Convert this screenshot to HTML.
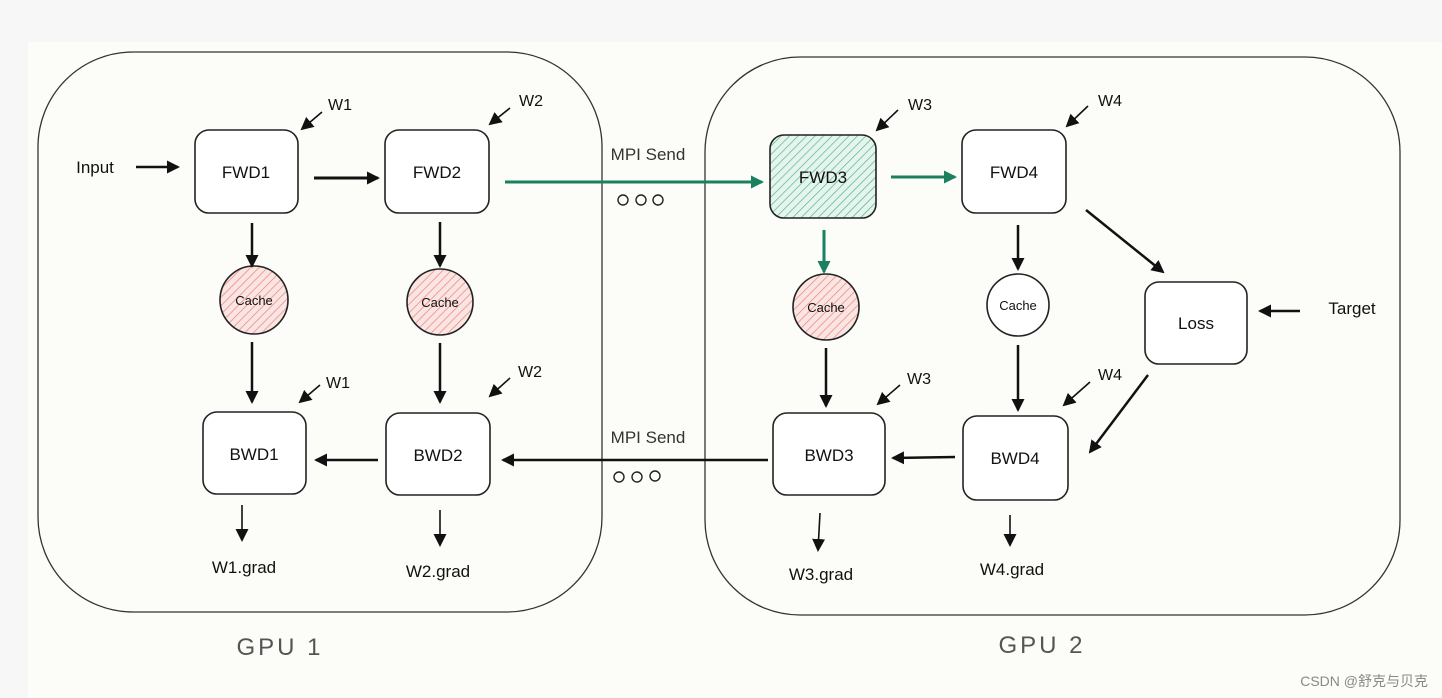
<!DOCTYPE html>
<html><head><meta charset="utf-8"><style>
html,body{margin:0;padding:0;background:#f7f7f7;}
svg{display:block;font-family:"Liberation Sans",sans-serif;}
</style></head><body>
<svg width="1442" height="698" viewBox="0 0 1442 698" xmlns="http://www.w3.org/2000/svg">
<defs>
<marker id="a" markerWidth="13" markerHeight="13" refX="11" refY="6.5" orient="auto" markerUnits="userSpaceOnUse" viewBox="0 0 13 13"><path d="M0,0 L13,6.5 L0,13 z" fill="#111"/></marker>
<marker id="g" markerWidth="13" markerHeight="13" refX="11" refY="6.5" orient="auto" markerUnits="userSpaceOnUse" viewBox="0 0 13 13"><path d="M0,0 L13,6.5 L0,13 z" fill="#1a8060"/></marker>
<pattern id="hg" width="6" height="6" patternUnits="userSpaceOnUse" patternTransform="rotate(45)"><rect width="6" height="6" fill="#e6f4ee"/><line x1="0" y1="0" x2="0" y2="6" stroke="#5ab894" stroke-width="1.5"/></pattern>
<pattern id="hr" width="6" height="6" patternUnits="userSpaceOnUse" patternTransform="rotate(45)"><rect width="6" height="6" fill="#fbe5e3"/><line x1="0" y1="0" x2="0" y2="6" stroke="#e88a86" stroke-width="1.5"/></pattern>
</defs>
<rect x="0" y="0" width="1442" height="698" fill="#f7f7f7"/>
<rect x="28" y="42" width="1414" height="656" fill="#fcfcf8"/>
<rect x="38" y="52" width="564" height="560" rx="95" fill="none" stroke="#333" stroke-width="1.3"/>
<rect x="705" y="57" width="695" height="558" rx="95" fill="none" stroke="#333" stroke-width="1.3"/>
<g fill="none" stroke="#222" stroke-width="1.6">
<rect x="195" y="130" width="103" height="83" rx="14" fill="#fff"/>
<rect x="385" y="130" width="104" height="83" rx="14" fill="#fff"/>
<rect x="770" y="135" width="106" height="83" rx="14" fill="url(#hg)"/>
<rect x="962" y="130" width="104" height="83" rx="14" fill="#fff"/>
<rect x="203" y="412" width="103" height="82" rx="14" fill="#fff"/>
<rect x="386" y="413" width="104" height="82" rx="14" fill="#fff"/>
<rect x="773" y="413" width="112" height="82" rx="14" fill="#fff"/>
<rect x="963" y="416" width="105" height="84" rx="14" fill="#fff"/>
<rect x="1145" y="282" width="102" height="82" rx="14" fill="#fff"/>
<circle cx="254" cy="300" r="34" fill="url(#hr)"/>
<circle cx="440" cy="302" r="33" fill="url(#hr)"/>
<circle cx="826" cy="307" r="33" fill="url(#hr)"/>
<circle cx="1018" cy="305" r="31" fill="#fff"/>
</g>
<g font-size="17" fill="#111" text-anchor="middle">
<text x="246" y="178">FWD1</text><text x="437" y="178">FWD2</text><text x="823" y="183">FWD3</text><text x="1014" y="178">FWD4</text>
<text x="254" y="460">BWD1</text><text x="438" y="461">BWD2</text><text x="829" y="461">BWD3</text><text x="1015" y="464">BWD4</text>
<text x="1196" y="329">Loss</text>
<g font-size="13"><text x="254" y="305">Cache</text><text x="440" y="307">Cache</text><text x="826" y="312">Cache</text><text x="1018" y="310">Cache</text></g>
<text x="95" y="173">Input</text><text x="1352" y="314">Target</text>
<g font-size="16"><text x="340" y="110">W1</text><text x="531" y="106">W2</text><text x="920" y="110">W3</text><text x="1110" y="106">W4</text>
<text x="338" y="388">W1</text><text x="530" y="377">W2</text><text x="919" y="384">W3</text><text x="1110" y="380">W4</text></g>
<text x="244" y="573">W1.grad</text><text x="438" y="577">W2.grad</text><text x="821" y="580">W3.grad</text><text x="1012" y="575">W4.grad</text>
<text x="648" y="160" fill="#333">MPI Send</text><text x="648" y="443" fill="#333">MPI Send</text>
</g>
<g fill="none" stroke="#222" stroke-width="1.4">
<circle cx="623" cy="200" r="5"/><circle cx="641" cy="200" r="5"/><circle cx="658" cy="200" r="5"/>
<circle cx="619" cy="477" r="5"/><circle cx="637" cy="477" r="5"/><circle cx="655" cy="476" r="5"/>
</g>
<g font-size="24" fill="#555" text-anchor="middle" letter-spacing="3">
<text x="280" y="655">GPU 1</text><text x="1042" y="653">GPU 2</text></g>
<text x="1428" y="686" font-size="14" fill="#888" text-anchor="end" font-family="'Liberation Sans','Noto Sans CJK SC',sans-serif">CSDN @舒克与贝克</text>
<g stroke="#111" stroke-width="2.5" fill="none">
<line x1="136" y1="167" x2="178" y2="167" marker-end="url(#a)"/>
<line x1="314" y1="178" x2="378" y2="178" marker-end="url(#a)" stroke-width="3"/>
<line x1="252" y1="223" x2="252" y2="266" marker-end="url(#a)"/>
<line x1="440" y1="222" x2="440" y2="266" marker-end="url(#a)"/>
<line x1="252" y1="342" x2="252" y2="402" marker-end="url(#a)"/>
<line x1="440" y1="343" x2="440" y2="402" marker-end="url(#a)"/>
<line x1="826" y1="348" x2="826" y2="406" marker-end="url(#a)"/>
<line x1="1018" y1="225" x2="1018" y2="269" marker-end="url(#a)"/>
<line x1="1018" y1="345" x2="1018" y2="410" marker-end="url(#a)"/>
<line x1="378" y1="460" x2="316" y2="460" marker-end="url(#a)"/>
<line x1="768" y1="460" x2="503" y2="460" marker-end="url(#a)"/>
<line x1="955" y1="457" x2="893" y2="458" marker-end="url(#a)"/>
<line x1="1086" y1="210" x2="1163" y2="272" marker-end="url(#a)"/>
<line x1="1148" y1="375" x2="1090" y2="452" marker-end="url(#a)"/>
<line x1="1300" y1="311" x2="1260" y2="311" marker-end="url(#a)"/>
<line x1="242" y1="505" x2="242" y2="540" marker-end="url(#a)" stroke-width="1.6"/>
<line x1="440" y1="510" x2="440" y2="545" marker-end="url(#a)" stroke-width="1.6"/>
<line x1="820" y1="513" x2="818" y2="550" marker-end="url(#a)" stroke-width="1.6"/>
<line x1="1010" y1="515" x2="1010" y2="545" marker-end="url(#a)" stroke-width="1.6"/>
<g stroke-width="1.6">
<line x1="322" y1="112" x2="302" y2="129" marker-end="url(#a)"/>
<line x1="510" y1="108" x2="490" y2="124" marker-end="url(#a)"/>
<line x1="898" y1="110" x2="877" y2="130" marker-end="url(#a)"/>
<line x1="1088" y1="106" x2="1067" y2="126" marker-end="url(#a)"/>
<line x1="320" y1="385" x2="300" y2="402" marker-end="url(#a)"/>
<line x1="510" y1="378" x2="490" y2="396" marker-end="url(#a)"/>
<line x1="900" y1="385" x2="878" y2="404" marker-end="url(#a)"/>
<line x1="1090" y1="382" x2="1064" y2="405" marker-end="url(#a)"/>
</g>
</g>
<g stroke="#1a8060" stroke-width="3" fill="none">
<line x1="505" y1="182" x2="762" y2="182" marker-end="url(#g)"/>
<line x1="891" y1="177" x2="955" y2="177" marker-end="url(#g)"/>
<line x1="824" y1="230" x2="824" y2="272" marker-end="url(#g)"/>
</g>
</svg>
</body></html>
